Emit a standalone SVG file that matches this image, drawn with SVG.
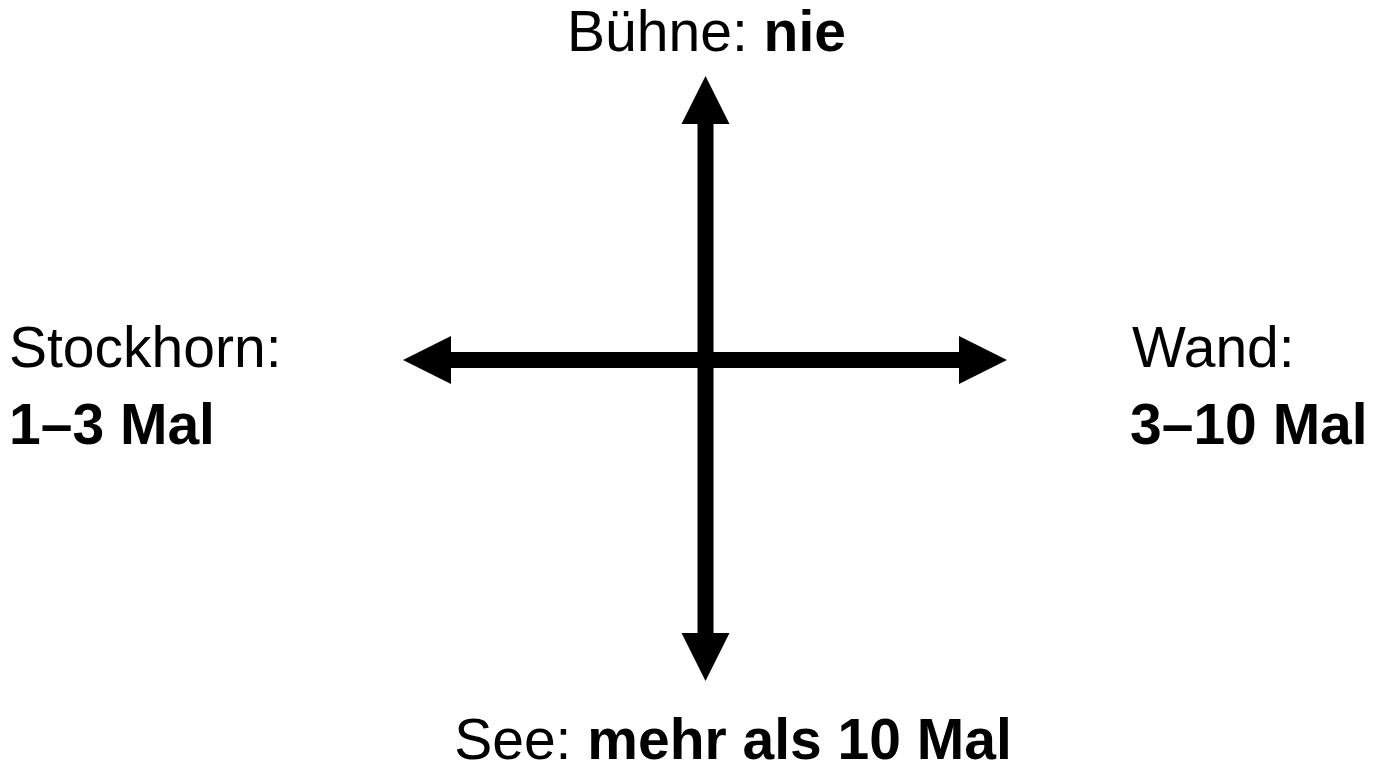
<svg xmlns="http://www.w3.org/2000/svg" width="1381" height="764" viewBox="0 0 1381 764">
<style>
text{font-family:"Liberation Sans",Arial,sans-serif;font-size:57px;fill:#000}
.b{font-weight:bold}
.shaft{stroke:#000;stroke-width:16;fill:none}
.head{fill:#000}
</style>
<rect width="1381" height="764" fill="#fff"/>
<g id="connectors">
<line class="shaft" x1="705.5" y1="120" x2="705.5" y2="637"/>
<line class="shaft" x1="447" y1="360" x2="964" y2="360"/>
<polygon class="head" points="705.5,76 729.5,124 681.5,124"/>
<polygon class="head" points="705.5,681 729.5,633 681.5,633"/>
<polygon class="head" points="403,360 451,336 451,384"/>
<polygon class="head" points="1007,360 959,336 959,384"/>
</g>
<g id="top"><text x="706.5" y="51" text-anchor="middle">Bühne: <tspan class="b">nie</tspan></text></g>
<g id="left"><text x="9" y="367">Stockhorn:</text><text class="b" x="9" y="444">1–3 Mal</text></g>
<g id="right"><text x="1132" y="367">Wand:</text><text class="b" x="1130" y="444">3–10 Mal</text></g>
<g id="bottom"><text x="733" y="759" text-anchor="middle">See: <tspan class="b">mehr als 10 Mal</tspan></text></g>
</svg>
